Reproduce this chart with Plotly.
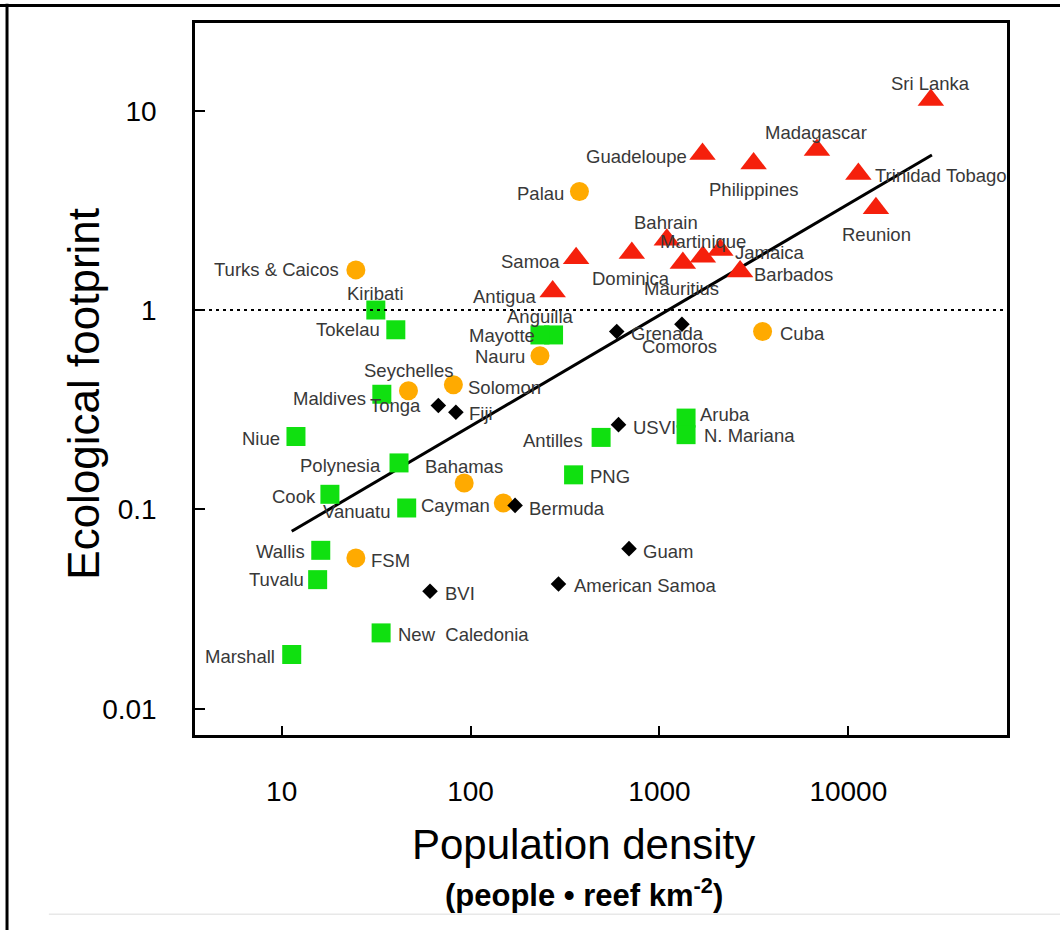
import math
import plotly.graph_objects as go

# ---------------- data ----------------
tri_names = ["Sri Lanka", "Madagascar", "Guadeloupe", "Philippines", "Trinidad Tobago",
             "Reunion", "Bahrain", "Martinique", "Jamaica", "Dominica", "Mauritius",
             "Barbados", "Samoa", "Antigua"]
tri_x = [27350, 6820, 1690, 3150, 11300, 14000, 1094, 1698, 2100, 714, 1330, 2673, 362, 272]
tri_y = [11.3, 6.35, 6.07, 5.44, 4.82, 3.24, 2.25, 1.85, 2.0, 1.93, 1.72, 1.56, 1.82, 1.24]

cir_names = ["Palau", "Turks & Caicos", "Nauru", "Cuba", "Seychelles", "Solomon",
             "Bahamas", "Cayman", "FSM"]
cir_x = [377, 24.7, 233, 3515, 46.9, 81.1, 92.5, 149, 24.7]
cir_y = [3.93, 1.59, 0.59, 0.78, 0.394, 0.422, 0.1355, 0.1076, 0.057]

sq_names = ["Kiribati", "Tokelau", "Anguilla", "Mayotte", "Maldives", "Niue", "Polynesia",
            "Cook", "Vanuatu", "Wallis", "Tuvalu", "New  Caledonia", "Marshall", "Antilles",
            "PNG", "Aruba", "N. Mariana"]
sq_x = [31.5, 40.2, 275, 233, 33.9, 11.9, 41.8, 18.0, 45.9, 16.1, 15.5, 33.6, 11.3, 491,
        351, 1383, 1383]
sq_y = [1.0, 0.796, 0.75, 0.75, 0.378, 0.232, 0.171, 0.119, 0.1016, 0.0623, 0.0444, 0.024,
        0.0187, 0.2296, 0.149, 0.287, 0.237]

dia_names = ["Grenada", "Comoros", "Tonga", "Fiji", "USVI", "Bermuda", "Guam", "BVI",
             "American Samoa"]
dia_x = [594, 1315, 67.5, 83.6, 607, 172, 690, 61.0, 292]
dia_y = [0.78, 0.849, 0.332, 0.307, 0.266, 0.1047, 0.0635, 0.0388, 0.0422]

trend_x = [11.3, 27700]
trend_y = [0.0776, 6.0]

x_tick_vals = [10, 100, 1000, 10000]
x_tick_text = ["10", "100", "1000", "10000"]
y_tick_vals = [0.01, 0.1, 1, 10]
y_tick_text = ["0.01", "0.1", "1", "10"]

# ---------------- label placement (style only) ----------------
# side: L = text left of marker, R = right, T = above, B = below ; dx, dy in px
label_pos = {
    "Sri Lanka": ("T", 0, 17), "Madagascar": ("T", -1, 18), "Guadeloupe": ("L", -14, -3),
    "Philippines": ("B", 0, -26), "Trinidad Tobago": ("R", 15, -2), "Reunion": ("B", 1, -26),
    "Bahrain": ("T", -1, 17), "Martinique": ("T", 0, 15), "Jamaica": ("R", 13, -2),
    "Dominica": ("B", -1, -25), "Mauritius": ("B", -1, -25), "Barbados": ("R", 12, -3),
    "Samoa": ("L", -14, -3), "Antigua": ("L", -15, -5),
    "Palau": ("L", -13, -2), "Turks & Caicos": ("L", -15, 0), "Nauru": ("L", -13, -1),
    "Cuba": ("R", 15, -2), "Seychelles": ("T", 0, 20), "Solomon": ("R", 13, -3),
    "Bahamas": ("T", 0, 17), "Cayman": ("L", -11, -2), "FSM": ("R", 13, -2),
    "Kiribati": ("T", 0, 17), "Tokelau": ("L", -14, 0), "Anguilla": ("T", -13, 18),
    "Mayotte": ("L", -3, -1), "Maldives": ("L", -14, -4), "Niue": ("L", -14, -2),
    "Polynesia": ("L", -16, -3), "Cook": ("L", -12, -2), "Vanuatu": ("L", -14, -4),
    "Wallis": ("L", -14, -1), "Tuvalu": ("L", -12, 0), "New  Caledonia": ("R", 15, -2),
    "Marshall": ("L", -15, -2), "Antilles": ("L", -16, -3), "PNG": ("R", 14, -2),
    "Aruba": ("R", 12, 4), "N. Mariana": ("R", 16, -1),
    "Grenada": ("R", 12, -2), "Comoros": ("B", -2, -22), "Tonga": ("L", -15, 0),
    "Fiji": ("R", 11, -1), "USVI": ("R", 12, -3), "Bermuda": ("R", 12, -3),
    "Guam": ("R", 12, -3), "BVI": ("R", 13, -2), "American Samoa": ("R", 14, -1),
}

FONT = "Liberation Sans, Arial, Helvetica, sans-serif"
LABEL_COLOR = "#383838"

fig = go.Figure()

# regression line
fig.add_trace(go.Scatter(x=trend_x, y=trend_y, mode="lines",
                         line=dict(color="black", width=3), hoverinfo="skip",
                         showlegend=False))

groups = [
    (tri_names, tri_x, tri_y, "triangle-up", 23, "#f5200c"),
    (cir_names, cir_x, cir_y, "circle", 19, "#ffaa00"),
    (sq_names, sq_x, sq_y, "square", 19, "#10e010"),
    (dia_names, dia_x, dia_y, "diamond", 12, "#000000"),
]

annotations = []
for names, xs, ys, sym, size, color in groups:
    fig.add_trace(go.Scatter(x=xs, y=ys, mode="markers", text=names,
                             marker=dict(symbol=sym, size=size, color=color,
                                         line=dict(width=0)),
                             showlegend=False, hoverinfo="text"))
    for n, xv, yv in zip(names, xs, ys):
        side, dx, dy = label_pos[n]
        anchor = {"L": "right", "R": "left", "T": "center", "B": "center"}[side]
        # annotations on log axes take log10 positions
        annotations.append(dict(x=math.log10(xv), y=math.log10(yv), xref="x", yref="y",
                                text=n, showarrow=False,
                                xanchor=anchor, yanchor="middle", xshift=dx, yshift=dy,
                                font=dict(family=FONT, size=18.5, color=LABEL_COLOR)))

# axis titles
annotations.append(dict(text="Ecological footprint", x=-0.137, y=0.479, xref="paper",
                        yref="paper", showarrow=False, textangle=-90, xanchor="center",
                        yanchor="middle", font=dict(family=FONT, size=44, color="black")))
annotations.append(dict(text="Population density", x=0.4785, y=-0.154, xref="paper",
                        yref="paper", showarrow=False, xanchor="center", yanchor="middle",
                        font=dict(family=FONT, size=42, color="black")))
annotations.append(dict(text="<b>(people • reef km<sup>-2</sup>)</b>", x=0.479, y=-0.222,
                        xref="paper", yref="paper", showarrow=False, xanchor="center",
                        yanchor="middle", font=dict(family=FONT, size=31, color="black")))

shapes = [
    # dotted reference line at footprint = 1
    dict(type="line", xref="paper", yref="y", x0=0, x1=1, y0=1, y1=1,
         line=dict(color="black", width=2, dash="3px,4px")),
    # outer frame (top and left)
    dict(type="line", xref="paper", yref="paper", x0=-0.245, x1=1.07, y0=1.0246, y1=1.0246,
         line=dict(color="black", width=3)),
    dict(type="line", xref="paper", yref="paper", x0=-0.2315, x1=-0.2315, y0=1.027, y1=-0.28,
         line=dict(color="black", width=3)),
    # faint line near bottom
    dict(type="line", xref="paper", yref="paper", x0=-0.18, x1=1.07, y0=-0.2516, y1=-0.2516,
         line=dict(color="#e8e8e8", width=1.5)),
]

fig.update_layout(
    width=1060, height=930, autosize=False,
    margin=dict(l=195, r=53, t=23, b=195),
    paper_bgcolor="white", plot_bgcolor="white",
    font=dict(family=FONT, color="black"),
    showlegend=False,
    annotations=annotations, shapes=shapes,
    xaxis=dict(type="log", range=[0.541, 4.840], tickvals=x_tick_vals, ticktext=x_tick_text,
               ticks="inside", ticklen=9, tickwidth=2, tickcolor="black",
               showline=True, linewidth=2.5, linecolor="black", mirror=True,
               showgrid=False, zeroline=False,
               tickfont=dict(family=FONT, size=28, color="black"),
               ticklabelstandoff=30),
    yaxis=dict(type="log", range=[-2.132, 1.440], tickvals=y_tick_vals, ticktext=y_tick_text,
               ticks="inside", ticklen=10, tickwidth=2, tickcolor="black",
               showline=True, linewidth=2.5, linecolor="black", mirror=True,
               showgrid=False, zeroline=False,
               tickfont=dict(family=FONT, size=28, color="black"),
               ticklabelstandoff=30),
)

# remove the browser's default 8px body margin so the figure fills the window
fig.write_html("out.html", config={"displayModeBar": False},
               post_script="document.body.style.margin='0';")
